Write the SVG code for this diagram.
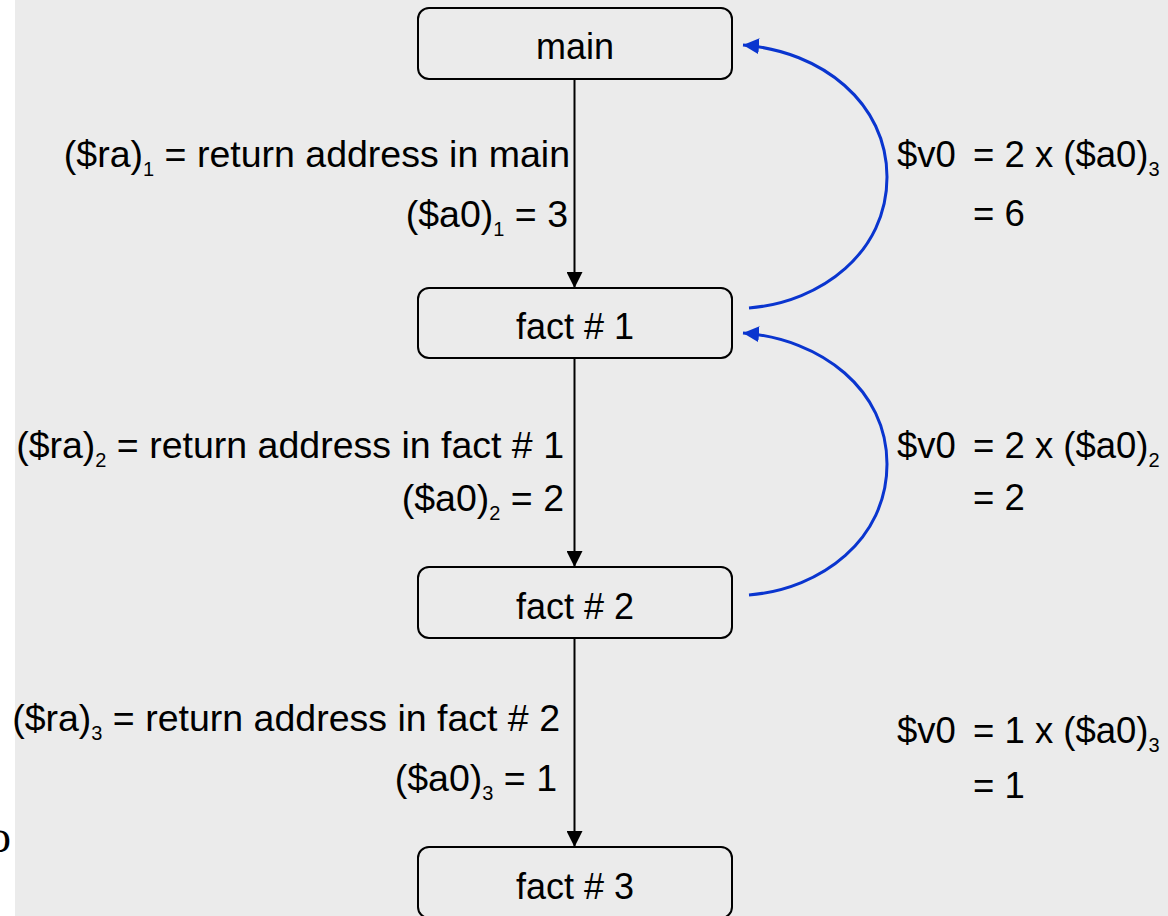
<svg xmlns="http://www.w3.org/2000/svg" width="1168" height="916" viewBox="0 0 1168 916">
<style>
.bg{fill:#ebebeb}
.box{fill:#ebebeb;stroke:#000;stroke-width:2}
.lbl{font-family:"Liberation Sans",Arial,sans-serif;font-size:36px;fill:#000}
.l{font-family:"Liberation Sans",Arial,sans-serif;font-size:37.5px;fill:#000;text-anchor:end}
.r{font-family:"Liberation Sans",Arial,sans-serif;font-size:36.5px;fill:#000}
.sub{font-size:20px}
.call{stroke:#000;stroke-width:2;fill:none;marker-end:url(#ah)}
.ret{stroke:#0a35cf;stroke-width:3;fill:none;marker-end:url(#bh)}
</style>
<defs>
<marker id="ah" markerUnits="userSpaceOnUse" markerWidth="16" markerHeight="16" viewBox="0 0 16 16" refX="16" refY="8" orient="auto">
<path d="M0,0 L16,8 L0,16 z" fill="#000"/>
</marker>
<marker id="bh" markerUnits="userSpaceOnUse" markerWidth="16" markerHeight="16" viewBox="0 0 16 16" refX="16" refY="8" orient="auto">
<path d="M0,0 L16,8 L0,16 z" fill="#0a35cf"/>
</marker>
</defs>
<rect x="0" y="0" width="1168" height="916" fill="#fff"/>
<rect class="bg" x="15" y="0" width="1153" height="916"/>
<text x="-12" y="852" font-family="'Liberation Serif',serif" font-size="46" fill="#000">o</text>

<g id="connectors">
<line class="call" x1="574.5" y1="79" x2="574.5" y2="288"/>
<line class="call" x1="574.5" y1="358" x2="574.5" y2="567"/>
<line class="call" x1="574.5" y1="638" x2="574.5" y2="847"/>
<path class="ret" d="M749,308 C822,302 887,252 887,177 C887,103 822,51 743,45"/>
<path class="ret" d="M749,595 C822,589 887,539 887,464 C887,390 822,339 743,333"/>
</g>

<g id="node-main">
<rect class="box" x="418" y="8" width="314" height="71" rx="11"/>
<text class="lbl" x="575" y="59" text-anchor="middle">main</text>
</g>
<g id="node-fact1">
<rect class="box" x="418" y="288" width="314" height="70" rx="11"/>
<text class="lbl" x="575" y="339" text-anchor="middle">fact # 1</text>
</g>
<g id="node-fact2">
<rect class="box" x="418" y="567" width="314" height="71" rx="11"/>
<text class="lbl" x="575" y="619" text-anchor="middle">fact # 2</text>
</g>
<g id="node-fact3">
<rect class="box" x="418" y="847" width="314" height="71" rx="11"/>
<text class="lbl" x="575" y="899" text-anchor="middle">fact # 3</text>
</g>

<g id="labels-left">
<text class="l" x="570" y="167">($ra)<tspan class="sub" dy="9">1</tspan><tspan dy="-9"> = return address in main</tspan></text>
<text class="l" x="568" y="227">($a0)<tspan class="sub" dy="9">1</tspan><tspan dy="-9"> = 3</tspan></text>
<text class="l" x="564" y="458">($ra)<tspan class="sub" dy="9">2</tspan><tspan dy="-9"> = return address in fact # 1</tspan></text>
<text class="l" x="564" y="511">($a0)<tspan class="sub" dy="9">2</tspan><tspan dy="-9"> = 2</tspan></text>
<text class="l" x="560" y="731">($ra)<tspan class="sub" dy="9">3</tspan><tspan dy="-9"> = return address in fact # 2</tspan></text>
<text class="l" x="557" y="791">($a0)<tspan class="sub" dy="9">3</tspan><tspan dy="-9"> = 1</tspan></text>
</g>

<g id="labels-right">
<text class="r" x="897" y="167">$v0</text>
<text class="r" x="973" y="167">= 2 x ($a0)<tspan class="sub" dy="9">3</tspan></text>
<text class="r" x="973" y="226">= 6</text>
<text class="r" x="897" y="458">$v0</text>
<text class="r" x="973" y="458">= 2 x ($a0)<tspan class="sub" dy="9">2</tspan></text>
<text class="r" x="973" y="510">= 2</text>
<text class="r" x="897" y="743">$v0</text>
<text class="r" x="973" y="743">= 1 x ($a0)<tspan class="sub" dy="9">3</tspan></text>
<text class="r" x="973" y="798">= 1</text>
</g>
</svg>
